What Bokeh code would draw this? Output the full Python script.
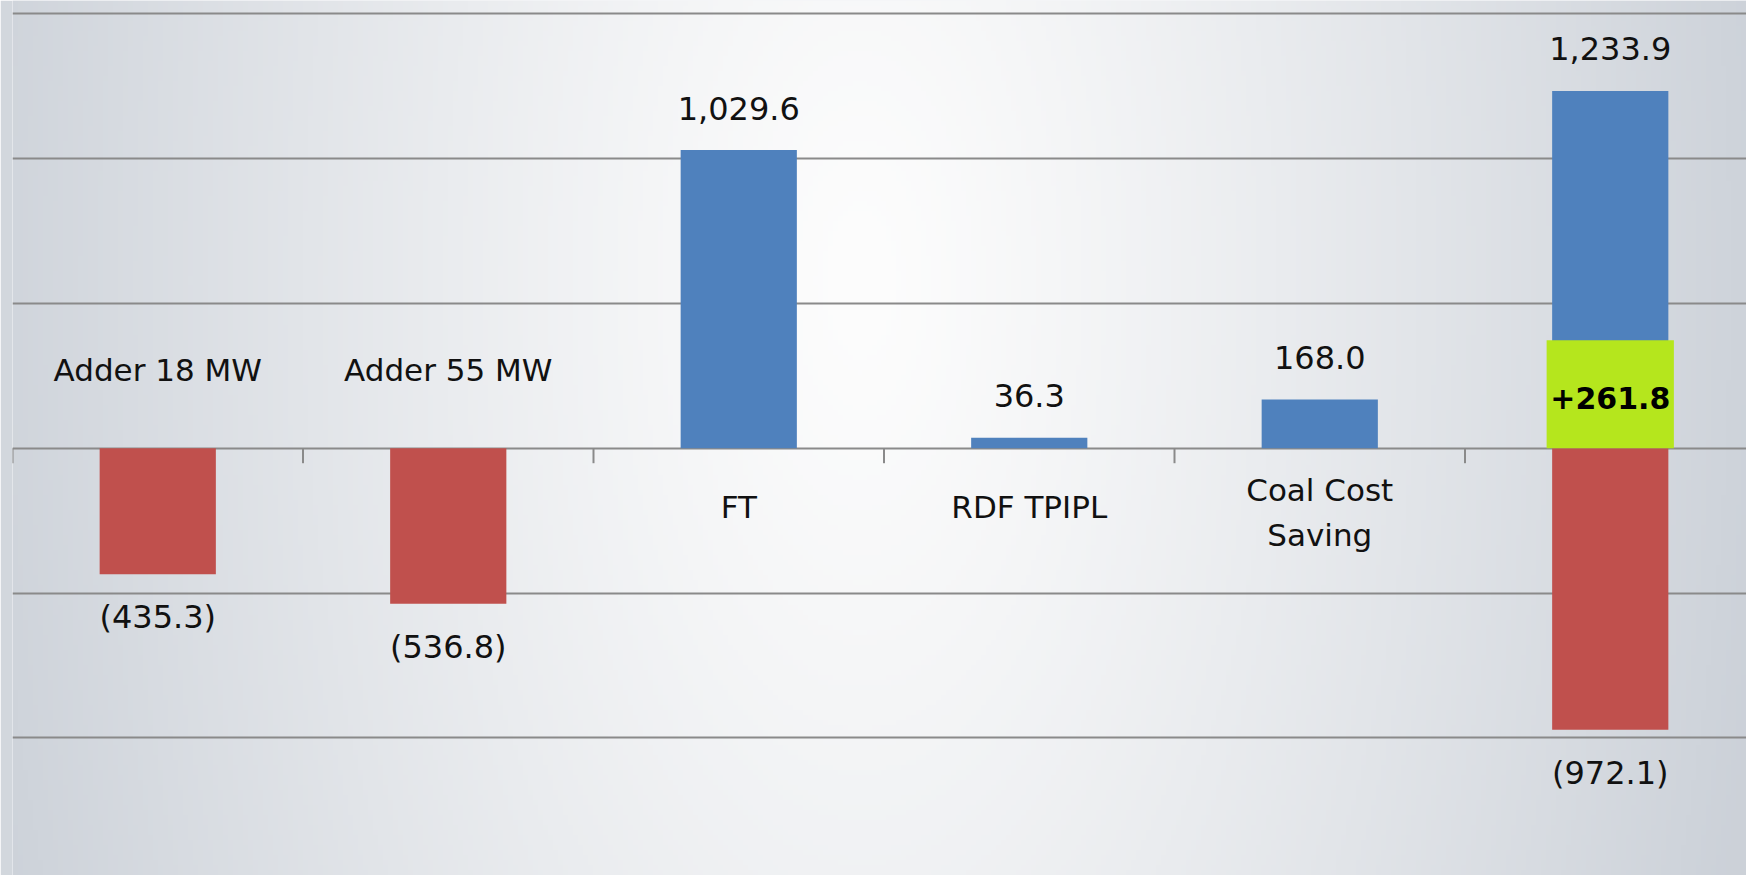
import numpy as np
from bokeh.plotting import figure
from bokeh.models import ColumnDataSource, Range1d, FixedTicker, Grid
from bokeh.core.properties import value
from bokeh.embed import file_html
from bokeh.resources import INLINE

# ---------------- data ----------------
categories = ["Adder 18 MW", "Adder 55 MW", "FT", "RDF TPIPL", "Coal Cost\nSaving"]
values = [-435.3, -536.8, 1029.6, 36.3, 168.0]
total_category = ""          # last column (totals) carries no name
grid_values = [-1000, -500, 0, 500, 1000, 1500]

pos_total = round(sum(v for v in values if v > 0), 1)   # 1,233.9
neg_total = round(sum(v for v in values if v < 0), 1)   # (972.1)
net_total = round(pos_total + neg_total, 1)             # +261.8


def fmt(v):
    return f"{v:,.1f}" if v >= 0 else f"({-v:,.1f})"


# ---------------- layout ----------------
W, H = 1746, 875
BORDER_L = 12
X0, X1 = -0.5, 5.469
Y0, Y1 = -1475.5, 1546.0
plot_w = W - BORDER_L
plot_h = H
units_per_px = (Y1 - Y0) / plot_h

BLUE = "#4F81BD"
RED = "#C0504D"
GREEN = "#B5E61D"
GRID = "#8a8a8a"
TXT = "#111111"
FONT = value("DejaVu Sans")

p = figure(width=W, height=H, x_range=Range1d(X0, X1), y_range=Range1d(Y0, Y1),
           output_backend="svg", toolbar_location=None,
           x_axis_location=None, y_axis_location=None,
           min_border_left=BORDER_L, min_border_right=0, min_border_top=0, min_border_bottom=0)
p.outline_line_color = None
p.border_fill_color = "#d2d7dd"
p.background_fill_color = "#eceef1"
p.grid.visible = False

# background radial glow
nx, ny = 347, 175
sx = BORDER_L + (np.arange(nx) + 0.5) * plot_w / nx
sy = plot_h - (np.arange(ny) + 0.5) * plot_h / ny
SX, SY = np.meshgrid(sx, sy)
r = np.sqrt(((SX - 860) / 870.0) ** 2 + ((SY - 280) / 1750.0) ** 2)
t = np.clip(r, 0, 1.05) ** 1.2
white = np.array([253, 253, 253], dtype=float)
edge = np.array([207, 212, 219], dtype=float)
img = np.empty((ny, nx), dtype=np.uint32)
view = img.view(dtype=np.uint8).reshape((ny, nx, 4))
for k in range(3):
    view[:, :, k] = np.clip(white[k] + (edge[k] - white[k]) * t, 0, 255).astype(np.uint8)
view[:, :, 3] = 255
p.image_rgba(image=[img], x=X0, y=Y0, dw=X1 - X0, dh=Y1 - Y0, level="image")

# horizontal grid lines
grid = Grid(dimension=1, ticker=FixedTicker(ticks=grid_values),
            grid_line_color=GRID, grid_line_width=2)
p.add_layout(grid)

# tick marks at category boundaries on the zero line
n_cat = len(categories) + 1
bounds = [i - 0.5 for i in range(n_cat)]
p.ray(x=bounds, y=[0] * len(bounds), length=15, length_units="screen",
      angle=-np.pi / 2, line_color=GRID, line_width=2)

# individual bars
xs = list(range(len(categories)))
bars = ColumnDataSource(dict(
    x=xs, top=values, color=[BLUE if v >= 0 else RED for v in values]))
p.vbar(x="x", top="top", bottom=0, width=0.4, fill_color="color",
       line_color=None, source=bars)

# total column (stacked positive / negative)
tx = len(categories)
p.vbar(x=[tx, tx], top=[pos_total, neg_total], bottom=0, width=0.4,
       fill_color=[BLUE, RED], line_color=None)

# net highlight box
box_h = 108 * units_per_px
p.quad(left=tx - 0.219, right=tx + 0.219, bottom=0, top=box_h,
       fill_color=GREEN, line_color=None)
p.text(x=[tx], y=[0], text=[f"+{net_total:,.1f}"], y_offset=-50,
       text_align="center", text_baseline="middle", text_font=FONT,
       text_font_size="30px", text_font_style="bold", text_color="#000000")

# value labels
all_x = xs + [tx, tx]
all_v = values + [pos_total, neg_total]
labels = ColumnDataSource(dict(
    x=all_x, y=all_v, text=[fmt(v) for v in all_v],
    off=[-42 if v >= 0 else 43 for v in all_v]))
p.text(x="x", y="y", text="text", y_offset="off", source=labels,
       text_align="center", text_baseline="middle", text_font=FONT,
       text_font_size="32px", text_color=TXT)

# category names
names = ColumnDataSource(dict(
    x=xs, y=[0] * len(xs), text=categories,
    off=[-78 if v < 0 else 59 + 5 * c.count("\n") for v, c in zip(values, categories)]))
p.text(x="x", y="y", text="text", y_offset="off", source=names,
       text_align="center", text_baseline="middle", text_font=FONT,
       text_font_size="31px", text_color=TXT, text_line_height=1.25)

open("out.html", "w").write(file_html(p, INLINE))
